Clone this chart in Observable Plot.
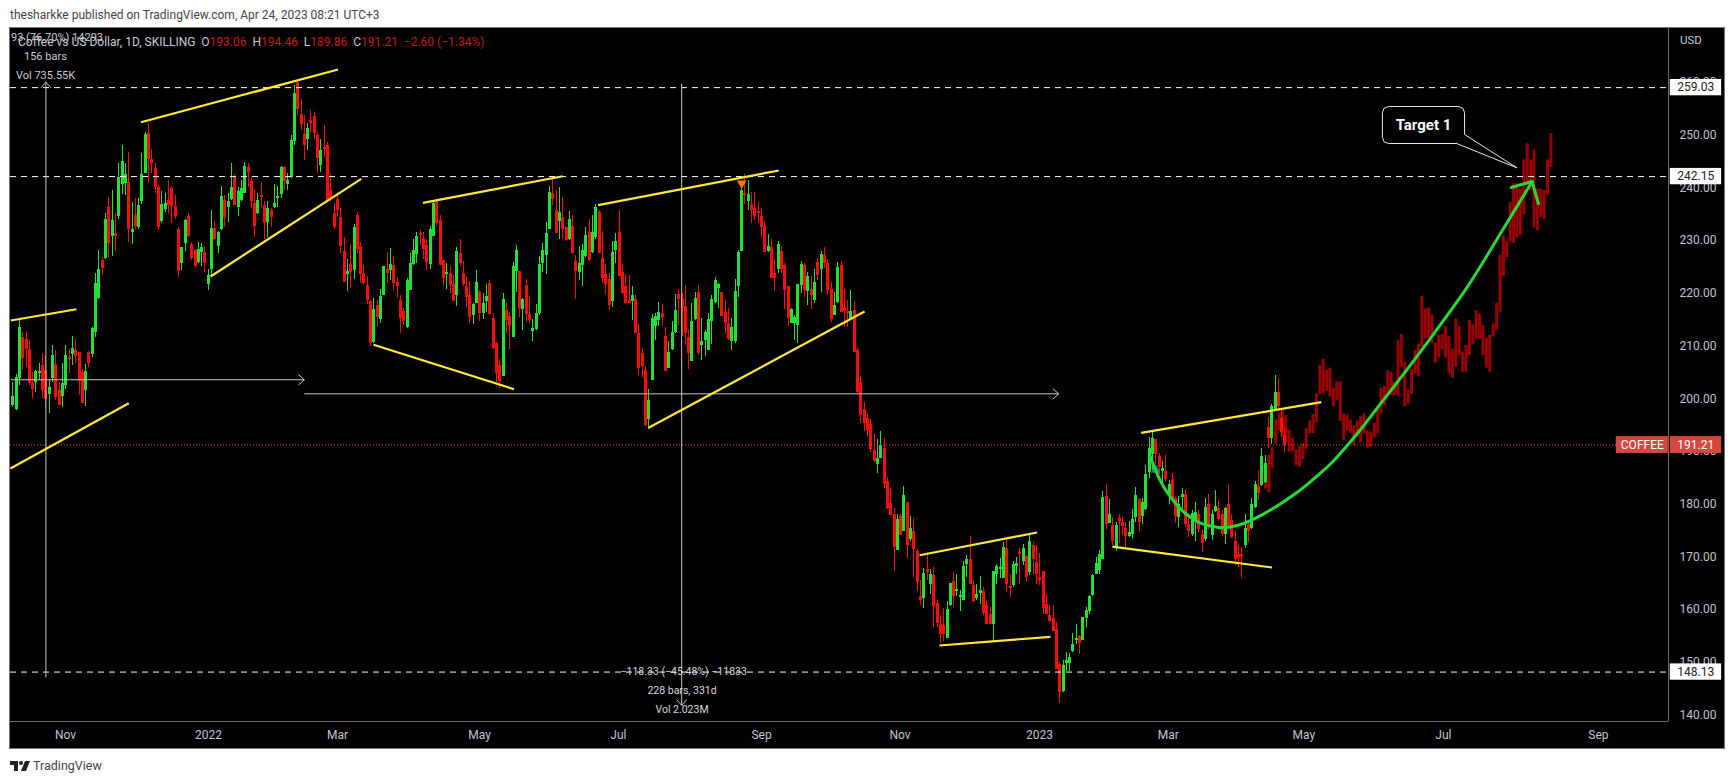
<!DOCTYPE html>
<html><head><meta charset="utf-8">
<script src="https://cdn.jsdelivr.net/npm/d3@7"></script>
<script src="https://cdn.jsdelivr.net/npm/@observablehq/plot@0.6"></script>
<style>
html,body{margin:0;padding:0;background:#fff;overflow:hidden;width:1735px;height:784px;font-family:Roboto,sans-serif}
#frame{position:absolute;left:9px;top:27px;width:1716px;height:722px;box-sizing:border-box;background:#000;border:1px solid #777}
#chart{position:absolute;left:0;top:0}
.t{position:absolute;white-space:pre;line-height:14px}
.w{color:#c9ccd4}.r{color:#c8161c}
</style></head><body>
<div id="frame"></div>
<div id="chart"></div>
<div class="t" style="left:10px;top:8px;font-size:12px;color:#444">thesharkke published on TradingView.com, Apr 24, 2023 08:21 UTC+3</div>
<div class="t w" style="left:11px;top:31px;font-size:11px">93 (76.70%) 14293</div>
<div class="t" style="left:18px;top:35px;font-size:12px"><span class="w">Coffee vs US Dollar, 1D, SKILLING  O</span><span class="r">193.06</span><span class="w">  H</span><span class="r">194.46</span><span class="w">  L</span><span class="r">189.86</span><span class="w">  C</span><span class="r">191.21</span><span class="r">  −2.60 (−1.34%)</span></div>
<div class="t w" style="left:24px;top:50px;font-size:11px">156 bars</div>
<div class="t w" style="left:16px;top:69px;font-size:11px">Vol 735.55K</div>
<div class="t w" style="left:1680px;top:33px;font-size:11.5px">USD</div>
<svg style="position:absolute;left:10px;top:761px" width="20" height="10"><path d="M0 0h8v10h-4v-6h-4z" fill="#222"/><circle cx="11" cy="2" r="2" fill="#222"/><path d="M15 0h5l-4 10h-5z" fill="#222"/></svg>
<div class="t" style="left:33px;top:759px;font-size:12.5px;color:#444">TradingView</div>
<script>
const barsLate2021 = [
[198.8,203.1,198.4,200.4],[197.9,204.6,197.7,204.0],[203.8,215.1,202.5,213.6],[211.7,212.6,205.6,207.7],[211.3,212.6,206,209.4],[209.4,211,202.5,202.8],[203,205,200,201.7],[203.1,205.3,201.2,205.2],[205,206.6,203.4,205.2],[206.3,208.5,200,201.5],
[205.3,208.2,198.4,199.9],[200.8,203.4,197.2,202.2],[203.9,210.1,203.1,208.2],[206.5,209.1,199.6,200.3],[201.5,203.1,198.7,198.8],[200.4,206.6,198.4,202.9],[202.5,210.1,201.8,208.2],[207.9,209.4,204.7,207.5],[208.4,211.8,206.3,209.6],[209.1,211.2,206.6,208],
[208.7,208.7,200.6,203.2],[205,205.6,199,199.1],[201.5,206.5,198.6,205.1],[208.8,208.9,206,206.7],[208.4,213.6,207.9,213.4],[212.6,223.7,211.7,221.9],[219,228.1,218.9,224.6],[226.3,226.8,223.4,224.7],[226.7,235.2,226.5,234],[236.2,238.2,226.8,229.5],
[230.7,239.5,227,233.8],[231.3,235.1,227.9,230.8],[234.6,244.7,234.1,241.9],[240.6,248,238.8,245],[240.8,244.6,238.6,242.5],[241.1,246.7,229.7,232.1],[231.5,237.3,229.3,232.1],[234.8,237.9,232.2,232.6],[232.4,237.9,232.2,236.7],[237.4,246.5,236.9,242.5],
[242.8,250.5,242.7,250.1],[250.3,252.3,240.9,245.4],[245.4,247.3,242.7,244.6],[243.7,244.6,238.9,240],[240.1,240.5,231.9,232.4],[233.6,239.4,233.2,236.9],[235.9,238.9,235.4,237],[237.6,241.4,235.1,236.7],[239.9,240.3,233.3,236.5],[236.5,238.6,234.1,234.6]
];
const barsEarly2022 = [
[232.2,232.4,223,224.1],[225.7,228.6,224.3,228.6],[229.5,234.1,227.9,233.8],[234.6,235.1,230.5,230.7],[229.3,229.7,226.3,226.7],[228.1,228.3,224.9,225.1],[225.9,229.6,225.7,228.4],[227.8,229.5,225.1,228.6],[227.8,228.8,224,225.6],[221.7,224.6,220.5,223.4],
[224.5,235.7,223,232.3],[232.3,233.7,230,230.3],[228.9,231.8,227.6,231.6],[232.2,240.3,231.9,238.4],[237.7,238.6,232.4,234.3],[236.3,238.9,233.5,237.5],[237.8,244.6,237.6,240],[241.9,242.5,236.7,236.7],[236.3,240,234.6,239.3],[237.6,241.4,237.5,239.8],
[239,244.8,238.9,244.1],[243.8,244.6,240.1,242.9],[241.2,242,236,237.4],[237,239.5,230.5,232.7],[235.2,238.9,234.9,237.7],[238.6,241.1,236,238.2],[236.7,237.4,230.3,233.3],[233.4,237.5,230.5,236],[235.8,236,232.5,234.3],[236.2,240.6,236,237],
[238.1,240.3,236.3,238.4],[238.8,244,238,243.9],[243.8,244,239.5,241.2],[240.7,242.7,239.5,241.5],[241.9,250,241.7,249],[248.9,259.5,248,258],[260,260.4,253.8,254.8],[254,256.7,250.9,252],[250.1,253.8,245.2,248],[249.2,252.2,247.1,251.2],
[252.8,254.7,250.6,252.2],[253.6,254.4,249.2,250.3],[250,250.3,242.7,245.6],[244.3,249.2,243,247.1],[247.4,251.9,245.8,247.3],[248,248.6,237.3,237.6],[239.5,242.5,237.5,237.9],[235.1,237,232.2,232.5],[237.8,238.6,234.4,235.7],[234.4,236,227.6,228.9]
];
const barsMid2022a = [
[227.9,230.5,222,222],[223.6,226.5,220.4,224.1],[225.5,229.3,221,224],[224.3,233,222.6,232.4],[234.8,235.3,227.6,228.3],[228.9,229.7,221.8,223.6],[223.7,225.3,221.6,221.8],[221.5,223.2,217.9,218.6],[218.4,218.6,210,210.4],[210.7,219.1,210.5,216.9],
[217.7,218.6,213.6,215.5],[215.1,220.8,214.3,219.4],[219.6,225.1,219.6,225.1],[224.5,227.7,221.8,223.7],[224.3,228.5,222.4,225.5],[225.3,227,220.5,221.8],[222,223,219.3,221.3],[218.6,219.5,212.3,215.3],[216.5,217.2,213.9,214.7],[213.6,222.9,213.4,222.5],
[220.5,227.6,220.5,225.6],[225.5,230.2,225.3,228.2],[227.4,231.6,225.6,230.8],[231.4,232,229,231],[230.4,231.5,226.5,228.3],[229,230.3,224.3,225.9],[225.4,232.7,224.6,232.2],[230.8,237.3,230.7,237],[237.5,237.5,232.7,233.2],[233.8,234.8,225.3,225.3],
[226.2,226.2,221.2,222.9],[223.8,225.6,220.8,224],[223.7,225.1,220,221.5],[221.7,223.4,218.4,218.4],[219.6,228.6,217.5,227.9],[227.6,230.2,225,225.6],[223.8,226.1,221.2,221.7],[221.3,223.2,217.4,219.3],[219.6,222.3,214.2,215.5],[215.8,218,214.1,217.9],
[218.1,224.3,218.1,222],[220.2,220.5,214.7,216.2],[216.2,219.9,215.1,218.1],[218.4,221.7,216.4,219.4],[221.8,222.5,215.8,216],[215.3,216.1,209.4,209.6],[210.4,210.7,203,204.8],[206.3,207.4,202,203.2],[204.3,219.9,204.3,218.8],[216.7,218,212.3,214.8],
[215.6,216.4,209.3,213.7],[211.7,225.9,211.7,225.1],[224.1,229,220.2,228.2],[224.1,224.1,215.5,217.2],[216.9,219.1,212.9,218.9],[221.5,222.7,214.5,216],[216,219.3,214.2,214.9],[212.7,215.1,210.9,213.3],[213.1,217.9,212.9,216.2],[216.1,227,215.8,225.4]
];
const barsMid2022b = [
[225.6,229.4,224,228.1],[227.2,233.4,223.5,231.3],[232.2,240.3,232.1,239.2],[239,241.7,236.7,237.8],[235.8,239.6,231.3,231.3],[233.7,240.1,230.3,235.3],[234.4,238.1,230.3,232.1],[232.4,232.4,229.9,230.1],[230.3,235.5,230.1,234],[232.7,234.8,227.5,227.5],
[226,227.2,218.8,224.1],[223.9,228.9,222.4,225.7],[225.3,229.2,221.3,228.1],[227,232.4,226.8,231],[231.5,234,226.1,226.2],[227.8,234.8,227.5,231.6],[230.5,236.8,230.3,236.3],[235.4,235.8,227.6,227.6],[226.7,231.7,221.8,222.9],[223.5,225.4,219.8,221.7],
[222.7,223.8,216.7,217.7],[218.4,229.8,217.3,227.7],[228.1,231.3,225.6,229.8],[231.5,235.7,223.2,223.2],[223.9,225.4,219.8,219.9],[221.3,223.5,217.9,218],[218.6,223.4,218,218],[218.5,221.3,214.8,219.5],[218.8,219.6,212.4,212.4],[212.4,214.1,204.4,205.8],
[208.5,209.6,204,206.1],[205.3,206.1,194.7,194.9],[196.1,201.7,194.2,199.6],[203.4,215.9,203.4,215.3],[213.7,216.2,211,215.6],[214.8,218.2,213.7,216.3],[216.1,217.9,213.9,215.4],[211.8,213.5,205.1,205.1],[205.7,210.8,205.7,208.7],[209.4,214.6,209.2,212.5],
[212.5,219.8,212.4,216.7],[219.8,220.8,213.9,218.8],[218.8,219.9,211.8,217.1],[217.5,221.5,210.1,212.4],[211.6,213.2,205.5,208.6],[207.1,218.1,207.1,214.6],[215,220.2,214.9,219.1],[220.1,221.5,208.2,208.5],[210.1,215.3,207.2,210.8],[211.1,212.9,208,212.5],
[209.1,216.1,209.1,215.1],[214.6,219.6,210.3,218.8],[218.2,223,218.1,222.5],[221,221.8,217.1,221.7],[220.1,220.1,215.6,215.6],[216.3,218.6,212.4,214.3],[214.2,217.2,211,211.3],[210.8,215.3,209.1,213.5],[210.9,222.7,210.4,220.3],[221.3,228.1,219.2,227.7],
[228,240.1,227.9,239.5],[238.7,242.5,236.8,238.4],[237.4,241.4,235.7,238.7],[236.8,239.2,233.3,235.8],[236,239.2,233.8,234.6],[235.4,237.3,233.3,235.1],[234.6,236,230.6,232.4],[232.7,233.6,227.8,227.8],[228,231.1,227.8,228.9],[228.6,230.3,222.8,222.8],
[223.7,226.2,220.3,222.8],[224.6,229.8,223.8,229.2],[227.9,228.9,223.8,224.5],[225.3,225.6,216.9,220.5],[221.3,221.3,213.7,215.3],[214.3,217.2,214.2,217],[214.3,215.8,211,215.4],[213.9,221.7,210.4,221.7]
];
const barsAutumn2022 = [
[221.5,226.1,220,225.5],[225.2,225.6,219.3,220.5],[220.4,224,217.7,223.1],[220.7,223.1,216.9,219.6],[218.6,224.5,218,222],[225.9,226.6,222.5,223.4],[224.5,228,220.2,227.4],[227.2,228.7,224.8,225.7],[225.7,226.4,219.6,220.6],[220.8,222.1,214.5,215],
[215.8,220.2,215.8,217.7],[218.3,225.8,218,224.9],[225.3,226.1,216.4,216.4],[217.4,220.7,213.6,216.6],[216.4,218.7,213.6,216.1],[215.1,220.5,214.8,216.6],[216.7,218.4,208.8,208.8],[209.1,209.6,200.8,201.2],[203,204.2,195.3,196.8],[198,199.3,193.8,195.3],
[196.2,197.2,192.9,193.9],[195.1,196,189.8,190.3],[190.1,193.3,187.9,188],[187.5,192.2,185.8,188.6],[188.7,193.7,188.7,191.1],[190.5,192.4,182.9,183.7],[184.3,185.1,178.9,179.2],[180.2,183,177.8,177.8],[178.1,179.2,167.3,171.8],[171.2,178.1,171.2,177],
[177.6,178.1,174.1,174.1],[174.8,183.3,174.8,181.6],[180.3,180.3,169.6,172.1],[173.2,177.6,173,175.3],[174.8,177.3,166.1,171.3],[171.1,171.4,163.4,165.1],[162.4,165.5,160.7,161.8],[162.1,167.7,160.2,166.8],[167.5,170.9,165.6,167],[164.7,167.5,162.8,166.7],
[166.4,167.9,156.6,160.5],[161.1,161.8,156.6,157.3],[157.2,158.9,153.7,155.3],[156.9,160.1,154,155.2],[154.5,161.5,154.5,160],[160.7,165,160.6,164.9],[165.4,167.1,160.4,162.4],[163.6,166.7,162.4,163.9],[162.5,163.7,159.7,162.6],[161.8,169.2,161.8,168.1],
[168.5,170.2,166.1,169.4],[169.4,173.8,164.7,164.7],[164.5,165.5,161.3,161.5],[162,164.7,161.8,162.9],[163.1,166.2,161,163.6],[163.4,164.2,158.8,159.3],[160.7,161.5,157.2,157.2],[159,160.4,157.2,157.2],[157.1,167.2,154,167.2],[166.6,168.6,164.8,168.1],
[167.5,169.6,165.9,168],[165.9,172.7,165.8,171.7],[171.5,173.3,163.4,164.7],[164.2,166.6,162.3,164],[164.5,169.2,164.2,168.5],[168.2,169.8,166.7,168.8],[170.6,171.5,164.7,170.3],[169.1,172.3,168.3,171.5],[170.1,170.2,165.3,166.1],[167,174.5,166.4,173],
[172.1,172.7,166.7,169.4],[169,172.1,164.7,166.6],[165.8,170.7,164.5,165.5],[167.2,167.2,159.1,160.2],[161,162.8,159.1,159.1],[158.9,160.7,157.6,157.7],[158.2,160.7,155.8,155.8],[156.2,157.5,148.6,148.6],[149.5,150,142.1,144.2]
];
const bars2023 = [
[144.4,150.3,144.2,149.4],[149.8,151.8,148.2,150.3],[149.8,151.7,148.2,150.9],[152,155.5,151.9,153.3],[154.3,157.1,153.4,154.4],[154.8,155,151.4,153.5],[154.1,158.5,154.1,158.4],[158.3,160.3,156.6,159.8],[159.6,162.7,159.1,162.4],[162.6,166.7,162.4,166.5],
[166.7,169.8,166.6,168.8],[167.4,171.2,166.6,170.4],[169.4,182.3,169.4,181.2],[181.4,183.7,175.1,176.2],[176.4,180.8,176.3,178],[176,177.4,172.1,173],[171.8,176.5,171,176],[177.2,178.1,172.6,176.5],[176.6,177.5,174,175.7],[175.4,176.5,171.8,173.9],
[173.9,176.7,173.6,174.6],[174.3,178.9,173.4,177],[177.4,183.1,176.5,181.6],[180.8,181,174.6,176.5],[177.6,181.1,176.1,180.3],[178.9,187.3,178.8,185.6],[186,192.7,184.8,190.5],[189.4,193.6,186.3,192.5],[192.2,192.2,187.6,189.4],[189,189.6,185.7,186.9],
[186.2,188.1,184,186.7],[186.2,189.3,184.3,184.6],[181.9,184.4,179.9,183.7],[184.6,185.9,180.3,181.1],[181.1,181.3,176.4,177.7],[177.5,181.5,175.6,180],[181.2,182.9,178.4,181.9],[181.8,182.7,175.6,176.1],[176.2,177.2,173.7,174.8],[174.2,178.8,173.8,178.2],
[176.7,180.3,172.9,178.4],[178.1,178.8,174.6,175.1],[174.3,175.1,170.8,172.5],[173.2,181.1,173,179.4],[179.9,181.8,175,175.6],[174.1,178.8,173.1,178],[178.6,182.5,178.4,179.6],[179.1,180.5,176.7,177.1],[178.1,178.8,173.8,174.2],[174.2,179.4,172.4,179.1],
[179.9,183.7,175.6,175.9],[176.9,178,173.4,173.7],[172.9,174.8,168.3,169.4],[170.5,172.1,168,169.7],[170.3,171.8,165.9,170.1],[172.1,178,171.6,175.3],[176.2,176.9,172.7,174.8],[175.3,181,175.1,179.9],[179.4,184.3,179.2,183.7],[183.4,186.3,180.6,182.1],
[183.5,190.6,183.3,189],[184.1,189.2,184,187.8],[194.5,196.5,190.5,192.4],[192.4,198.9,191.4,198.5],[197.7,204.5,197.6,201.1],[201.2,203.8,197.7,198.6],[196.3,197.9,192.7,193.6],[193.06,194.46,189.86,191.21]
];
const projectedHighLow = [
[185.5,182.9],[189.2,182.1],[190.7,186.8],[196,191.4],[197.2,193.9],[197.7,192.7],[196.8,191.5],[194,189.8],[192.4,190],[190.3,187.3],[190.9,187],
[191.5,188.5],[194.4,190.4],[195.8,193.3],[197,193.4],[200.9,195.5],[206.3,200.8],[207.5,200.9],[205.4,201.4],[205.8,200.3],[202,198.5],[203.2,199.6],[203.2,195.7],
[197.1,192],[196.8,193.8],[196,193.4],[194.9,191.1],[195.8,192.7],[196.6,191.7],[197.1,193.3],[193.9,190.6],[193.6,190.8],[195.3,192.5],[198.2,193.4],[202,197.1],[202.3,198.7],
[205.3,200.3],[205,200.6],[203.1,200.6],[211,200.4],[212.2,206],[207,198.5],[201.7,199],[205.6,200.8],[209.1,204.7],[210.4,204.2],[219.4,209.8],[217,211.3],[217.2,211.5],[215.8,210.4],
[210.5,206.7],[212,207.7],[212.2,209.2],[213.7,207.7],[211.8,204.7],[209.4,203.9],[215.1,206],[213.7,208.2],[208.9,205],[210.1,205],[214.8,208.2],[214,210.3],[216.7,211.3],[216.1,211.3],[213.9,208.2],[211.5,205.8],[212,205],
[214.2,211.7],[218.1,213],[227.2,216.4],[231,223.2],[229.9,226.8],[237.2,229.7],[240.8,229.5],[240.8,230.5],[239.8,231],[245.3,234.9],[248.4,240.8],[245.3,239.5],[247.2,232.4],[239.8,231.9],[239.7,234.4],[239.5,234],[245.3,238.7],[250.3,243.9]
];
const projectedStart = 378.1, projectedStep = 1.026;

const monthTicks = [15.9,59.1,98,140.9,182.8,226,267.8,309.9,348.8,389.7,431.8,478.6];
const monthLabels = ["Nov","2022","Mar","May","Jul","Sep","Nov","2023","Mar","May","Jul","Sep"];
const priceTicks = [140,150,160,170,180,190,200,210,220,230,240,250,260];
const levelPrices = [259.03,242.15,148.13];
const lastPrice = 191.21;

const trendLines = [
[-0.6,214.84,19.2,216.98],[38.7,252.47,98.2,262.47],[59.7,223.19,105.2,241.73],[123.8,237.17,166,242.22],
[108.9,210.23,151.3,201.8],[-0.7,186.75,35,199.13],[176.7,236.72,231.2,243.3],[191.9,194.48,257.1,216.55],
[273.7,170.3,309.2,174.61],[279.7,153.17,313.2,154.82],[340.6,193.53,395,199.34],[331.9,171.95,380.1,167.97]
];
const rulerLines = [
[10,260.06,10,147.1],[8.5,259,10,260.06],[11.5,259,10,260.06],
[-0.7,203.6,88,203.6],[86.2,204.6,88,203.6],[86.2,202.6,88,203.6],
[88,200.93,315.7,200.93],[313.9,201.9,315.7,200.93],[313.9,199.9,315.7,200.93],
[201.9,259.8,201.9,141.8],[200.4,142.9,201.9,141.8],[203.4,142.9,201.9,141.8]
];
const curveIdx = [343.1,345.4,348.4,353.5,358.5,363.5,369.6,377.6,387.7,392.7,397.8,402.8,407.8,412.8,417.9,428.9,439,449,458.6];
const curvePrice = [189.55,185.75,182.26,178.46,176.38,175.62,175.94,178.16,182.26,184.8,187.65,191.12,194.92,199.03,203.13,212.31,221.16,231.29,241.21];
const arrowHeadIdx = [452.3,458.6,460.5];
const arrowHeadPrice = [240.08,241.21,236.98];
const calloutIdx = [435.8,415.2,413.9,413.4,413.4,413.9,415.2,436.4,437.7,438.2,438.2,454,435.8];
const calloutPrice = [248.43,248.43,248.75,249.6,254.3,255.1,255.45,255.45,255.1,254.3,250.13,243.81,248.43];

const bars = [...barsLate2021,...barsEarly2022,...barsMid2022a,...barsMid2022b,...barsAutumn2022,...bars2023]
  .map(([o,h,l,c],i)=>({i,o,h,l,c}));
const projected = projectedHighLow.map(([h,l],k)=>({i:projectedStart+k*projectedStep,h,l}));
const up="#22e034", down="#f80d0d";
const linkOf = rows => rows.map(([x1,y1,x2,y2])=>({x1,y1,x2,y2}));
const axisColor="#c2c5cc";

const plot = Plot.plot({
  width:1735,height:784,marginLeft:10,marginRight:67,marginTop:27,marginBottom:63,
  x:{domain:[-0.69,499.76],axis:null},
  y:{domain:[138.75,270.44],axis:null},
  style:{background:"transparent",fontFamily:"Roboto,sans-serif",fontSize:"12px"},
  marks:[
    Plot.axisX({ticks:monthTicks,tickFormat:d=>monthLabels[monthTicks.indexOf(d)],tickSize:0,tickPadding:9,label:null,color:axisColor,fontSize:12}),
    Plot.axisY({anchor:"right",ticks:priceTicks,tickFormat:d=>d.toFixed(2),tickSize:0,tickPadding:11,textAnchor:"start",label:null,color:axisColor,fontSize:12}),
    Plot.ruleX([499.76],{stroke:"#6a6a6a"}),
    Plot.ruleY([138.75],{stroke:"#6a6a6a"}),
    // projected (ghost) bars
    Plot.ruleX(projected,{x:"i",y1:"l",y2:"h",stroke:"#990000",strokeWidth:3}),
    // real candles
    Plot.ruleX(bars,{x:"i",y1:"l",y2:"h",stroke:d=>d.c>=d.o?up:down,strokeWidth:1,shapeRendering:"crispEdges"}),
    Plot.ruleX(bars,{x:"i",y1:d=>Math.abs(d.c-d.o)<0.35?d.o-0.2:d.o,y2:d=>Math.abs(d.c-d.o)<0.35?d.o+0.2:d.c,stroke:d=>d.c>=d.o?up:down,strokeWidth:3,shapeRendering:"crispEdges"}),
    // levels
    Plot.ruleY(levelPrices,{stroke:"#fff",strokeWidth:1,strokeDasharray:"6 5"}),
    Plot.ruleY([lastPrice],{stroke:"#e0503f",strokeWidth:1,strokeDasharray:"1 2"}),
    // measuring tool
    Plot.link(linkOf(rulerLines),{x1:"x1",y1:"y1",x2:"x2",y2:"y2",stroke:"#c6c6c6",strokeWidth:1}),
    Plot.text(["−118.33 (−45.48%) −11833"],{x:[202.5],y:[148.2],fill:"#d8d8d8",fontSize:10.5}),
    Plot.text(["228 bars, 331d"],{x:[202],y:[144.6],fill:"#d8d8d8",fontSize:10.5}),
    Plot.text(["Vol 2.023M"],{x:[202],y:[141],fill:"#d8d8d8",fontSize:10.5}),
    // trend lines
    Plot.link(linkOf(trendLines),{x1:"x1",y1:"y1",x2:"x2",y2:"y2",stroke:"#ffe83b",strokeWidth:2.2}),
    // markers
    Plot.dot([{x:220,y:240.9}],{x:"x",y:"y",symbol:"triangle",r:3.6,rotate:180,fill:"#f57c00"}),
    Plot.dot([{x:345,y:186.5}],{x:"x",y:"y",symbol:"triangle",r:3.6,fill:"#1c7f8c"}),
    // curve
    Plot.line(curveIdx.map((x,k)=>({x,y:curvePrice[k]})),{x:"x",y:"y",curve:"catmull-rom",stroke:"#27d837",strokeWidth:3}),
    Plot.line(arrowHeadIdx.map((x,k)=>({x,y:arrowHeadPrice[k]})),{x:"x",y:"y",stroke:"#27d837",strokeWidth:3}),
    // callout
    Plot.line(calloutIdx.map((x,k)=>({x,y:calloutPrice[k]})),{x:"x",y:"y",stroke:"#e8e8e8",strokeWidth:1,fill:"#000"}),
    Plot.text(["Target 1"],{x:[425.8],y:[251.9],fill:"#fff",fontSize:15,fontWeight:"bold"}),
    // price tags
    Plot.rect(levelPrices,{x1:500.3,x2:515.8,y1:d=>d-1.55,y2:d=>d+1.55,fill:"#fff"}),
    Plot.text(levelPrices,{x:508,y:d=>d,text:d=>d.toFixed(2),fill:"#222",fontSize:12}),
    Plot.rect([lastPrice],{x1:484,x2:499.7,y1:d=>d-1.6,y2:d=>d+1.6,fill:"#d5473f"}),
    Plot.rect([lastPrice],{x1:500.3,x2:515.8,y1:d=>d-1.6,y2:d=>d+1.6,fill:"#d5473f"}),
    Plot.text(["COFFEE"],{x:[491.85],y:[lastPrice],fill:"#fff",fontSize:12}),
    Plot.text([lastPrice],{x:508,y:d=>d,text:d=>d.toFixed(2),fill:"#fff",fontSize:12})
  ]
});
document.getElementById("chart").appendChild(plot);
</script>
</body></html>
